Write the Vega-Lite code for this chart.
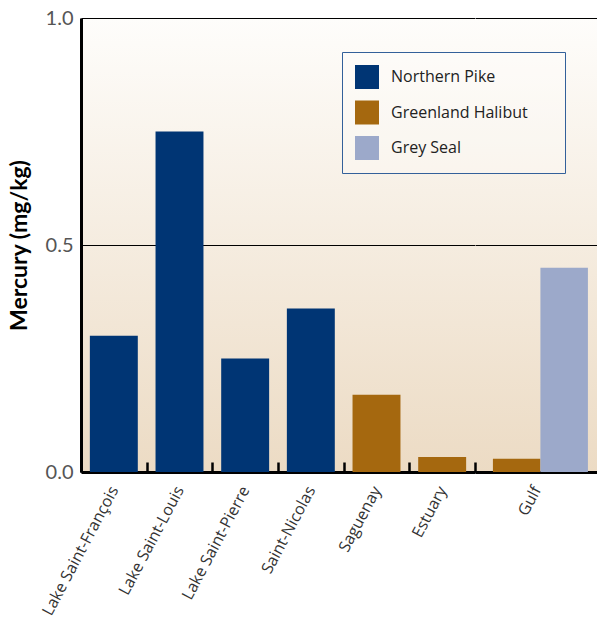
{
  "$schema": "https://vega.github.io/schema/vega-lite/v6.json",
  "autosize": {"type": "pad"},
  "padding": {"left": 8, "top": 8, "right": 0, "bottom": 0},
  "background": "white",
  "data": {
    "values": [
      {"location": "Lake Saint-François", "species": "Northern Pike", "mercury": 0.30},
      {"location": "Lake Saint-Louis", "species": "Northern Pike", "mercury": 0.75},
      {"location": "Lake Saint-Pierre", "species": "Northern Pike", "mercury": 0.25},
      {"location": "Saint-Nicolas", "species": "Northern Pike", "mercury": 0.36},
      {"location": "Saguenay", "species": "Greenland Halibut", "mercury": 0.17},
      {"location": "Estuary", "species": "Greenland Halibut", "mercury": 0.033},
      {"location": "Gulf", "species": "Greenland Halibut", "mercury": 0.029},
      {"location": "Gulf", "species": "Grey Seal", "mercury": 0.45}
    ]
  },
  "config": {
    "font": "Lato",
    "view": {
      "stroke": null,
      "fill": {"gradient": "linear", "x1": 0, "y1": 0, "x2": 0, "y2": 1,
        "stops": [{"offset": 0, "color": "#fefdfb"}, {"offset": 1, "color": "#ecdbc4"}]}
    },
    "axisX": {
      "domainColor": "black", "domainWidth": 3,
      "tickColor": "black", "tickWidth": 2.5, "tickSize": -10,
      "labelAngle": -62, "labelFont": "Open Sans", "labelFontSize": 16, "labelColor": "#333",
      "labelPadding": 25, "title": null, "grid": false
    },
    "axisY": {
      "domainColor": "black", "domainWidth": 3,
      "ticks": false, "grid": true, "gridColor": "black", "gridWidth": 1,
      "labelFont": "Lato", "labelFontSize": 20, "labelColor": "#555", "labelPadding": 8,
      "titleFont": "Lato", "titleFontSize": 23, "titleFontWeight": "bold", "titleColor": "black",
      "titlePadding": 14
    },
    "legend": {
      "orient": "none", "legendX": 261, "legendY": 34,
      "symbolType": "square", "symbolSize": 576, "symbolStrokeWidth": 0, "symbolOpacity": 1,
      "labelFont": "Open Sans", "labelFontSize": 16, "labelColor": "#222", "labelOffset": 12,
      "rowPadding": 11.5, "padding": 13,
      "titleOrient": "right", "titlePadding": 24, "titleFontSize": 10,
      "strokeColor": "#33609a", "fillColor": "rgba(255,255,255,0.25)"
    }
  },
  "resolve": {
    "scale": {"x": "independent", "y": "shared", "color": "shared"},
    "axis": {"x": "independent", "y": "independent"}
  },
  "spacing": 0,
  "bounds": "flush",
  "hconcat": [
    {
      "width": 394,
      "height": 454,
      "transform": [{"filter": "datum.location !== 'Gulf'"}],
      "mark": {"type": "bar"},
      "encoding": {
        "x": {
          "field": "location", "type": "nominal",
          "scale": {
            "domain": ["Lake Saint-François", "Lake Saint-Louis", "Lake Saint-Pierre", "Saint-Nicolas", "Saguenay", "Estuary"],
            "paddingInner": 0.27, "paddingOuter": 0.135
          },
          "axis": {"tickOffset": -32.83, "labelOffset": 32.83}
        },
        "y": {
          "field": "mercury", "type": "quantitative",
          "scale": {"domain": [0, 1], "nice": false},
          "axis": {"values": [0, 0.5, 1], "format": ".1f", "title": "Mercury (mg/kg)"}
        },
        "color": {
          "field": "species", "type": "nominal",
          "scale": {"domain": ["Northern Pike", "Greenland Halibut", "Grey Seal"], "range": ["#003574", "#a5680f", "#9ca9ca"]},
          "legend": {"title": " "}
        }
      }
    },
    {
      "width": 123,
      "height": 454,
      "transform": [{"filter": "datum.location === 'Gulf'"}],
      "mark": {"type": "bar"},
      "encoding": {
        "x": {
          "field": "location", "type": "nominal",
          "scale": {"domain": ["Gulf"], "paddingInner": 0, "paddingOuter": 0},
          "axis": {"tickOffset": -61.5, "labelOffset": 61.5}
        },
        "xOffset": {
          "field": "species", "type": "nominal",
          "scale": {"domain": ["Greenland Halibut", "Grey Seal"], "paddingInner": 0, "paddingOuter": 0.2947, "align": 0.64}
        },
        "y": {
          "field": "mercury", "type": "quantitative",
          "scale": {"domain": [0, 1], "nice": false},
          "axis": {"values": [0, 0.5, 1], "labels": false, "domain": false, "title": null}
        },
        "color": {
          "field": "species", "type": "nominal",
          "scale": {"domain": ["Northern Pike", "Greenland Halibut", "Grey Seal"], "range": ["#003574", "#a5680f", "#9ca9ca"]},
          "legend": {"title": " "}
        }
      }
    }
  ]
}
